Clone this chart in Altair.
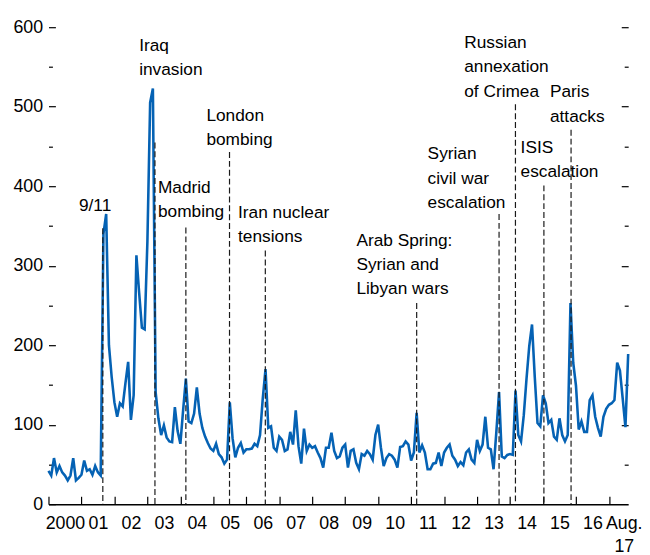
import altair as alt
import pandas as pd

FONT = "Liberation Sans, Arial, Helvetica, sans-serif"
BLUE = "#0562B4"

# ---- data: monthly index, Jan 2000 - Aug 2017 ----
years = list(range(2000, 2018))
gpr_2000 = [42, 36, 58, 40, 48, 40, 36, 30, 36, 58, 30, 33]
gpr_2001 = [37, 55, 42, 44, 37, 48, 40, 36, 340, 365, 200, 160]
gpr_2002 = [128, 110, 127, 123, 152, 179, 106, 137, 313, 266, 222, 220]
gpr_2003 = [330, 505, 523, 141, 108, 87, 99, 84, 79, 78, 122, 92]
gpr_2004 = [76, 118, 158, 104, 102, 114, 147, 114, 96, 85, 77, 70]
gpr_2005 = [67, 76, 63, 59, 51, 56, 128, 83, 59, 71, 77, 65]
gpr_2006 = [69, 69, 70, 76, 73, 87, 133, 170, 96, 98, 71, 67]
gpr_2007 = [85, 81, 67, 69, 91, 75, 118, 73, 51, 95, 67, 75]
gpr_2008 = [71, 73, 65, 58, 46, 71, 71, 90, 67, 58, 60, 71]
gpr_2009 = [75, 46, 67, 69, 52, 44, 63, 61, 67, 63, 56, 87]
gpr_2010 = [100, 71, 48, 58, 63, 61, 56, 46, 72, 73, 79, 75]
gpr_2011 = [55, 65, 115, 65, 74, 65, 44, 44, 51, 52, 65, 48]
gpr_2012 = [65, 71, 75, 61, 56, 48, 53, 49, 65, 69, 56, 52]
gpr_2013 = [81, 67, 75, 110, 71, 69, 44, 90, 141, 60, 58, 62]
gpr_2014 = [63, 62, 143, 87, 79, 112, 158, 199, 226, 160, 102, 98]
gpr_2015 = [137, 127, 102, 106, 85, 81, 108, 87, 79, 87, 253, 178]
gpr_2016 = [149, 94, 104, 91, 91, 131, 137, 110, 96, 85, 110, 120]
gpr_2017 = [125, 127, 131, 178, 168, 133, 97, 189]
series = [gpr_2000, gpr_2001, gpr_2002, gpr_2003, gpr_2004, gpr_2005, gpr_2006,
          gpr_2007, gpr_2008, gpr_2009, gpr_2010, gpr_2011, gpr_2012, gpr_2013,
          gpr_2014, gpr_2015, gpr_2016, gpr_2017]

# x-axis labels: one per year (centred mid-year) plus the last month
axis_years = list(range(2000, 2017))
last_label_pos = 2017.45

# events (dashed lines)
event_names = ["9/11", "Iraq invasion", "Madrid bombing", "London bombing",
               "Iran nuclear tensions", "Arab Spring", "Syrian civil war escalation",
               "Russian annexation of Crimea", "ISIS escalation", "Paris attacks"]
event_dates = [2001.648, 2003.229, 2004.167, 2005.491, 2006.577, 2011.168,
               2013.667, 2014.164, 2015.027, 2015.851]
event_tops = [347, 455, 348, 443, 319, 253, 365, 503, 401, 471]

# annotation texts
label_lines = [["9/11"], ["Iraq", "invasion"], ["Madrid", "bombing"], ["London", "bombing"],
               ["Iran nuclear", "tensions"], ["Arab Spring:", "Syrian and", "Libyan wars"],
               ["Syrian", "civil war", "escalation"], ["Russian", "annexation", "of Crimea"],
               ["ISIS", "escalation"], ["Paris", "attacks"]]
label_x = [2000.923, 2002.75, 2003.32, 2004.79, 2005.75, 2009.34, 2011.50, 2012.61, 2014.32, 2015.21]
label_y = [375, 576, 398, 488, 366, 331, 440, 580, 448, 518]
LINE_STEP = 30.5

# ---- build tables ----
t_vals, v_vals = [], []
for yr, arr in zip(years, series):
    for i, v in enumerate(arr):
        t_vals.append(yr + i / 12)
        v_vals.append(v)
df = pd.DataFrame({"t": t_vals, "v": v_vals})

ev = pd.DataFrame({"d": event_dates, "top": event_tops, "bot": [0] * len(event_dates)})

rows = []
for lines, lx, ly in zip(label_lines, label_x, label_y):
    for k, s in enumerate(lines):
        rows.append({"s": s, "x": lx, "y": ly - k * LINE_STEP})
ann = pd.DataFrame(rows)

xs = alt.Scale(domain=[2000, 2017 + 7 / 12], nice=False, zero=False)
ys = alt.Scale(domain=[0, 600], nice=False)

label_vals = [y + 0.5 for y in axis_years] + [last_label_pos]
label_expr = ("datum.value > 2017 ? ['Aug.', '17'] : (datum.value < 2001 ? '2000' : "
              "substring(toString(floor(datum.value)), 2, 4))")

line = alt.Chart(df).mark_line(color=BLUE, strokeWidth=2.6).encode(
    x=alt.X("t:Q", scale=xs, axis=alt.Axis(
        orient="bottom", values=label_vals, labelExpr=label_expr, ticks=False,
        domain=True, domainColor="black", domainWidth=1.4, grid=False,
        labelFont=FONT, labelFontSize=18, labelColor="black", labelPadding=11,
        labelFlush=False, labelOverlap=False, labelBound=False, labelLineHeight=23, title=None)),
    y=alt.Y("v:Q", scale=ys, axis=alt.Axis(
        orient="left", values=list(range(0, 601, 100)), offset=-7, tickSize=7,
        tickColor="black", tickWidth=1.2, domain=False, grid=False,
        labelFont=FONT, labelFontSize=18, labelColor="black", labelPadding=6, title=None)),
)

def axis_layer(xaxis, yaxis):
    return alt.Chart(df).mark_line(opacity=0).encode(
        x=alt.X("t:Q", scale=xs, axis=xaxis),
        y=alt.Y("v:Q", scale=ys, axis=yaxis),
    )

x_ticks = axis_layer(alt.Axis(orient="bottom", values=list(range(2000, 2018)), offset=-8,
                              tickSize=8, tickColor="black", tickWidth=1.2, labels=False,
                              domain=False, grid=False, title=None), None)
y_minor_l = axis_layer(None, alt.Axis(orient="left", values=list(range(50, 600, 100)), offset=-4,
                                      tickSize=4, tickColor="black", tickWidth=1.2, labels=False,
                                      domain=False, grid=False, title=None))
y_major_r = axis_layer(None, alt.Axis(orient="right", values=list(range(100, 601, 100)), offset=-7,
                                      tickSize=7, tickColor="black", tickWidth=1.2, labels=False,
                                      domain=False, grid=False, title=None))
y_minor_r = axis_layer(None, alt.Axis(orient="right", values=list(range(50, 600, 100)), offset=-4,
                                      tickSize=4, tickColor="black", tickWidth=1.2, labels=False,
                                      domain=False, grid=False, title=None))

rules = alt.Chart(ev).mark_rule(strokeDash=[6, 3], color="#1a1a1a", strokeWidth=1.2).encode(
    x=alt.X("d:Q", scale=xs, axis=None),
    y=alt.Y("top:Q", scale=ys, axis=None),
    y2=alt.Y2("bot:Q"),
)

text = alt.Chart(ann).mark_text(align="left", baseline="middle", font=FONT, fontSize=17.5,
                                color="black").encode(
    x=alt.X("x:Q", scale=xs, axis=None),
    y=alt.Y("y:Q", scale=ys, axis=None),
    text="s:N",
)

chart = alt.layer(line, rules, x_ticks, y_minor_l, y_major_r, y_minor_r, text).resolve_axis(
    x="independent", y="independent"
).properties(
    width=587, height=483,
    padding={"left": 41, "top": 16, "right": 14, "bottom": 48},
    autosize=alt.AutoSizeParams(type="none"),
    background="white",
).configure_view(stroke=None)

chart.save("out.html", embed_options={"renderer": "svg", "actions": False})
